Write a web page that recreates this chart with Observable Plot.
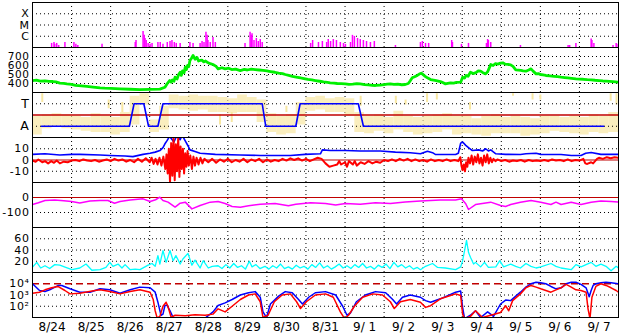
<!DOCTYPE html>
<html><head><meta charset="utf-8">
<script src="https://cdn.jsdelivr.net/npm/d3@7"></script>
<script src="https://cdn.jsdelivr.net/npm/@observablehq/plot@0.6"></script>
<style>body{margin:0;background:#fff}#chart{width:628px;height:334px;overflow:hidden}
#chart g[aria-label="y-axis tick label"] text{letter-spacing:0.6px}</style>
</head><body><div id="chart"></div><script>
// ---- time axis (days since 8/24 00:00) ----
const dayLabels = ["8/24","8/25","8/26","8/27","8/28","8/29","8/30","8/31","9/ 1","9/ 2","9/ 3","9/ 4","9/ 5","9/ 6","9/ 7"];
const gridDays = [1,2,3,4,5,6,7,8,9,10,11,12,13,14];

// ---- panel 1: X-ray flux (W/m2) ----
const xrayTickVals = [1e-6, 1e-5, 1e-4];
const xrayTickLabels = ["C", "M", "X"];
const xray = [[0.49,2.3e-7],[0.55,2.8e-7],[0.57,1.9e-7],[0.62,2.3e-7],[0.67,1.5e-7],[0.83,2.8e-7],[1.06,2.8e-7],[1.11,1.9e-7],[1.16,1.5e-7],[1.78,1.9e-7],[2.63,2.8e-7],[2.65,4.2e-7],[2.83,2.6e-6],[2.86,1.2e-6],[2.88,6.3e-7],[2.91,4.2e-7],[2.96,2.3e-7],[3.01,1.9e-7],[3.06,2.3e-7],[3.21,2.8e-7],[3.27,2.8e-7],[3.34,1.9e-7],[3.45,2.8e-7],[3.52,3.4e-7],[3.57,4.2e-7],[3.63,2.8e-7],[3.68,2.3e-7],[3.78,2.3e-7],[4.03,2.8e-7],[4.11,2.3e-7],[4.29,2.3e-7],[4.34,3.4e-7],[4.39,2.8e-7],[4.44,2.3e-6],[4.47,1.2e-6],[4.49,4.2e-7],[4.55,2.8e-7],[4.62,7.8e-7],[4.68,2.8e-7],[5.44,2.3e-7],[5.57,2.3e-6],[5.6,1.2e-6],[5.62,1.7e-6],[5.67,4.2e-7],[5.73,6.3e-7],[5.78,3.4e-7],[5.83,5.1e-7],[5.88,2.8e-7],[7.12,2.3e-7],[7.17,4.2e-7],[7.32,2.8e-7],[7.42,3.4e-7],[7.53,2.8e-7],[7.57,5.1e-7],[7.63,3.4e-7],[7.7,5.1e-7],[7.78,4.2e-7],[7.88,2.8e-7],[7.96,2.3e-7],[8.01,1.9e-7],[8.14,2.8e-7],[8.19,1.2e-6],[8.24,9.6e-7],[8.32,6.3e-7],[8.39,5.1e-7],[8.47,4.2e-7],[8.55,3.4e-7],[8.65,2.8e-7],[8.75,3.4e-7],[9.29,1.5e-7],[9.93,2.8e-7],[9.98,3.4e-7],[10.06,2.3e-7],[10.14,2.3e-7],[10.73,4.2e-7],[10.75,2.8e-7],[10.98,1.9e-7],[11.16,2.3e-7],[11.62,2.3e-7],[11.65,5.1e-7],[11.67,4.2e-7],[11.73,2.8e-7],[12.49,1.5e-7],[13.71,1.5e-7],[13.75,1.5e-7],[13.91,2.3e-7],[14.3,5.6e-7],[14.32,4.2e-7],[14.37,2.3e-7],[14.86,1.5e-7],[14.94,2.3e-7],[14.99,1.9e-7]];

// ---- panel 2: solar wind speed (km/s) ----
const speedTicks = [400, 500, 600, 700];
const speed = [[0,433],[0.1,438],[0.2,427],[0.32,430],[0.42,424],[0.52,422],[0.6,418],[0.7,405],[0.8,402],[0.88,396],[1.0,390],[1.1,380],[1.25,374],[1.39,367],[1.55,360],[1.73,352],[1.85,348],[2.0,345],[2.24,341],[2.5,336],[2.75,333],[3.0,335],[3.26,337],[3.39,359],[3.45,400],[3.51,433],[3.55,415],[3.58,440],[3.62,425],[3.65,470],[3.7,450],[3.74,500],[3.78,526],[3.81,490],[3.84,540],[3.88,520],[3.91,581],[3.94,555],[3.97,600],[4.0,590],[4.03,656],[4.07,680],[4.11,711],[4.16,670],[4.21,690],[4.25,650],[4.29,656],[4.34,660],[4.38,640],[4.43,650],[4.47,637],[4.55,620],[4.62,611],[4.7,590],[4.75,563],[4.85,575],[4.93,563],[5.02,570],[5.1,555],[5.2,560],[5.32,544],[5.42,556],[5.5,550],[5.6,560],[5.7,555],[5.8,550],[5.9,545],[6.0,540],[6.09,533],[6.2,525],[6.3,515],[6.4,510],[6.47,500],[6.56,490],[6.65,480],[6.75,472],[6.86,463],[6.95,455],[7.05,445],[7.15,440],[7.24,433],[7.35,425],[7.45,418],[7.55,412],[7.62,408],[7.72,404],[7.8,400],[7.9,398],[8.01,396],[8.1,390],[8.2,392],[8.3,398],[8.39,396],[8.5,388],[8.6,385],[8.7,380],[8.78,378],[8.9,383],[9.0,388],[9.08,392],[9.16,396],[9.25,390],[9.35,392],[9.45,386],[9.54,389],[9.62,400],[9.67,430],[9.72,463],[9.78,475],[9.85,490],[9.9,505],[9.95,514],[10.0,498],[10.05,480],[10.12,460],[10.19,444],[10.3,435],[10.36,430],[10.44,422],[10.5,410],[10.57,396],[10.63,402],[10.7,408],[10.78,404],[10.85,412],[10.96,415],[11.01,470],[11.06,460],[11.1,490],[11.15,480],[11.21,526],[11.28,510],[11.35,520],[11.41,540],[11.47,537],[11.53,520],[11.6,507],[11.65,530],[11.68,560],[11.73,611],[11.79,600],[11.85,620],[11.91,615],[11.98,626],[12.04,630],[12.1,615],[12.17,612],[12.24,607],[12.3,590],[12.37,552],[12.44,548],[12.5,545],[12.56,540],[12.63,537],[12.7,550],[12.76,563],[12.82,535],[12.89,507],[12.95,510],[13.0,500],[13.07,495],[13.14,489],[13.24,485],[13.35,480],[13.44,476],[13.53,470],[13.62,466],[13.7,462],[13.8,457],[13.91,452],[14.0,449],[14.1,447],[14.2,442],[14.3,441],[14.4,436],[14.5,432],[14.6,428],[14.68,426],[14.77,423],[14.85,420],[14.92,418],[15.0,415]];

// ---- panel 3: IMF sector (phi, degrees) ----
const sectorTickVals = [90, 270];
const sectorTickLabels = ["A", "T"];
const phiBinStep = 0.25;
const phiLo = [20,70,80,70,60,50,40,40,20,40,100,260,40,60,230,220,210,220,200,200,190,200,200,120,40,20,30,100,210,220,200,200,170,40,30,50,30,60,40,20,30,40,60,20,30,20,10,30,30,30,10,20,30,50,40,30,20,40,30,40];
const phiHi = [170,180,190,180,170,160,190,170,160,200,330,350,140,250,340,330,340,330,330,320,310,340,320,300,190,170,180,280,320,330,310,320,310,200,170,180,160,210,170,160,170,180,190,170,170,150,170,180,160,170,160,150,170,170,160,170,160,180,170,200];
const phiSpikes = [[0.25,280,350],[1.95,230,300],[2.3,200,280],[4.8,100,180],[5.1,120,200],[6.5,200,250],[8.4,250,330],[9.3,270,330],[9.55,260,300],[10.1,280,350],[10.35,300,350],[11.2,220,280],[12.3,330,350],[12.8,300,350],[13.0,300,340],[14.8,290,350],[14.95,260,350]];
const sector = [[0.23,90],[2.48,90],[2.6,270],[2.85,270],[2.97,90],[3.21,90],[3.34,270],[5.88,270],[5.97,90],[6.74,90],[6.85,270],[8.34,270],[8.47,90],[14.62,90]];

// ---- panel 4: IMF Bt and Bz (nT) ----
const bTickVals = [-10, 0, 10];
const bTickLabels = ["-10", "0", "10"];
const bt = [[0,5],[0.32,5.5],[0.7,4.5],[1.01,5],[1.21,5],[1.73,4.5],[1.98,4],[2.37,3.5],[2.57,3],[2.83,5],[3.01,6],[3.14,7],[3.26,8.4],[3.34,11],[3.39,14.4],[3.44,17],[3.51,21],[3.62,16],[3.7,22],[3.78,18],[3.83,22],[3.91,17],[3.99,12],[4.03,9],[4.16,7.5],[4.29,6],[4.68,5],[5.32,4.5],[5.83,4],[6.6,4],[6.98,5],[7.37,5.5],[7.42,9],[7.62,8.5],[8.01,8.5],[8.39,8],[8.9,8],[9.29,7],[9.67,6.5],[9.93,5.5],[10.11,7.8],[10.24,6.5],[10.31,5],[10.83,4.9],[10.9,6],[10.96,15],[11.01,16],[11.09,13],[11.16,11],[11.26,8.4],[11.42,9],[11.52,8],[11.6,10],[11.67,8],[11.73,9],[11.86,5.5],[12.11,5],[12.49,4.9],[12.63,5.5],[12.89,6],[13.01,5],[13.53,4.9],[13.79,4],[14.04,4],[14.16,6],[14.3,6.7],[14.55,5],[15.0,5]];
const bz = [[0,-0.5],[0.08,-1.5],[0.15,0.5],[0.25,-2],[0.32,-1],[0.4,-3],[0.48,-1],[0.55,-2.5],[0.62,-0.5],[0.7,-3],[0.8,-1.5],[0.9,-2],[1.0,-0.5],[1.1,0],[1.2,-1],[1.3,0.5],[1.4,-0.5],[1.5,-1],[1.6,0],[1.7,-1.5],[1.8,-0.5],[1.9,0.5],[2.0,-1],[2.1,1],[2.2,-0.5],[2.3,0.5],[2.4,-1.5],[2.5,0],[2.6,-2],[2.7,1],[2.8,-1.5],[2.9,1.5],[3.0,-2],[3.05,2],[3.1,-3.5],[3.15,1],[3.2,-4],[3.25,2],[3.3,-5],[3.35,3],[3.4,-8],[3.43,5],[3.46,-12],[3.49,10],[3.52,-20],[3.55,15],[3.58,-14],[3.61,20],[3.64,-18],[3.67,14],[3.7,-10],[3.73,20],[3.76,-15],[3.79,12],[3.82,-8],[3.85,10],[3.88,-12],[3.91,6],[3.94,-6],[3.97,8],[4.0,-5],[4.04,4],[4.08,-8],[4.12,3],[4.16,-5],[4.2,2],[4.25,-4],[4.3,2],[4.35,-3],[4.4,1],[4.5,-2],[4.6,1],[4.7,-2.5],[4.8,0.5],[4.9,-1.5],[5.0,1],[5.1,-2],[5.2,0],[5.3,-1.5],[5.4,1],[5.5,-2],[5.6,0.5],[5.7,-1],[5.8,1],[5.9,-2],[6.0,0.5],[6.1,-1.5],[6.2,0],[6.3,-1],[6.4,1],[6.5,-0.5],[6.6,1.5],[6.7,0],[6.8,1.5],[6.9,-0.5],[7.0,1],[7.1,-1],[7.2,0.5],[7.3,2],[7.4,1],[7.5,-3],[7.6,-6],[7.7,-5],[7.8,-4],[7.85,-1],[7.9,-4],[8.0,-2],[8.05,-6],[8.1,-1],[8.2,-4],[8.25,-1],[8.3,-5],[8.4,-2],[8.5,-3.5],[8.6,-1],[8.7,-3],[8.8,-1.5],[8.9,-2.5],[9.0,0],[9.1,-1],[9.2,0.5],[9.3,-1],[9.4,1],[9.5,-0.5],[9.6,1],[9.7,-1],[9.8,0.5],[9.9,-1],[10.0,0],[10.1,-1.5],[10.2,0.5],[10.3,-1],[10.4,0],[10.5,-1],[10.6,0.5],[10.7,-1],[10.8,0],[10.9,-1],[10.95,2.5],[10.98,-5],[11.01,-9],[11.04,-4],[11.07,-10],[11.1,-2],[11.13,-6],[11.16,2],[11.2,-3],[11.24,4],[11.28,-4],[11.32,3],[11.36,-2],[11.4,5],[11.44,-3],[11.48,2],[11.52,-5],[11.56,4],[11.6,-2],[11.64,5],[11.68,-3],[11.72,2],[11.76,-2],[11.8,1],[11.85,-1],[11.9,0.5],[12.0,-1],[12.1,0],[12.2,-1.5],[12.3,-0.5],[12.4,-1],[12.5,0],[12.6,-1.5],[12.7,0],[12.8,-1],[12.9,-0.5],[13.0,-1],[13.1,0],[13.2,-1],[13.3,0.5],[13.4,-0.5],[13.5,0],[13.6,-1],[13.7,0.5],[13.8,-1],[13.9,0],[14.0,-0.5],[14.1,1],[14.15,-3],[14.2,-3.5],[14.3,-2],[14.35,-3],[14.45,1],[14.5,2],[14.6,1],[14.7,2.5],[14.8,1.5],[14.9,2.5],[15.0,2]];

// ---- panel 5: Dst (nT) ----
const dstTickVals = [-100, 0];
const dstTickLabels = ["-100", "0"];
const dst = [[0,-47],[0.15,-35],[0.32,-20],[0.57,-16],[0.8,-22],[1.0,-27],[1.21,-36],[1.47,-24],[1.73,-20],[1.93,-20],[2.1,-38],[2.24,-27],[2.5,-16],[2.83,-9],[3.01,-27],[3.15,-15],[3.26,2],[3.34,-20],[3.47,-31],[3.65,-64],[3.78,-38],[3.91,-31],[4.08,-76],[4.29,-53],[4.55,-31],[4.75,-27],[4.93,-40],[5.11,-60],[5.32,-65],[5.53,-55],[5.83,-45],[6.21,-40],[6.55,-55],[6.74,-45],[7.12,-35],[7.5,-40],[7.76,-50],[8.01,-40],[8.39,-45],[8.78,-35],[9.16,-40],[9.54,-30],[9.93,-24],[10.19,-20],[10.44,-16],[10.83,-16],[10.98,-9],[11.09,-42],[11.16,-80],[11.34,-47],[11.73,-31],[11.98,-53],[12.11,-60],[12.24,-47],[12.49,-31],[12.76,-20],[13.01,-31],[13.27,-47],[13.4,-31],[13.53,-47],[13.79,-31],[14.04,-47],[14.3,-31],[14.55,-24],[14.81,-27],[15.0,-31]];

// ---- panel 6: cyan index ----
const cyTicks = [20, 40, 60];
const cyan = [[0,9.5],[0.11,18],[0.21,8],[0.32,12],[0.44,7],[0.57,14],[0.7,13],[0.85,9],[1.01,5],[1.21,8],[1.37,15],[1.52,4],[1.73,5],[1.88,9],[1.98,18],[2.06,11],[2.19,15],[2.29,8],[2.37,14],[2.5,5],[2.63,6],[2.75,5],[2.96,13],[3.06,16],[3.14,11],[3.21,30],[3.26,15],[3.34,39],[3.42,18],[3.52,39],[3.6,21],[3.67,30],[3.78,15],[3.85,24],[3.98,34],[4.08,13],[4.16,22],[4.29,8],[4.37,21],[4.5,8],[4.6,11],[4.75,12],[4.85,7],[4.95,14],[5.05,8],[5.15,16],[5.25,9],[5.35,12],[5.45,6],[5.55,20],[5.62,10],[5.72,14],[5.82,7],[5.95,11],[6.05,6],[6.15,12],[6.25,8],[6.35,15],[6.45,7],[6.55,10],[6.65,6],[6.75,13],[6.85,8],[6.95,11],[7.05,6],[7.15,14],[7.25,9],[7.35,17],[7.45,8],[7.55,12],[7.65,6],[7.75,10],[7.85,15],[7.95,8],[8.05,12],[8.15,7],[8.25,14],[8.35,9],[8.45,16],[8.55,8],[8.65,11],[8.75,6],[8.85,13],[8.95,9],[9.05,15],[9.15,7],[9.25,18],[9.35,10],[9.45,14],[9.55,8],[9.65,12],[9.75,6],[9.85,9],[9.93,5],[10.06,11],[10.24,16],[10.37,9],[10.57,8],[10.83,5],[10.96,10],[11.01,21],[11.06,39],[11.11,57],[11.16,36],[11.21,27],[11.29,15],[11.34,18],[11.47,10],[11.57,18],[11.67,9],[11.86,10],[11.96,21],[12.06,10],[12.24,15],[12.37,11],[12.49,8],[12.63,16],[12.76,11],[12.89,8],[13.01,10],[13.27,16],[13.4,11],[13.53,8],[13.79,5],[13.91,14],[14.04,10],[14.3,18],[14.42,11],[14.55,15],[14.68,11],[14.81,3],[14.94,11],[15.0,8]];

// ---- panel 7: electron flux (log10) ----
const eTickVals = [1e2, 1e3, 1e4];
const eTickLabels = ["10\u00B2", "10\u00B3", "10\u2074"];
const eBlueLog = [[0,4.0],[0.18,3.4],[0.32,3.31],[0.44,3.46],[0.65,3.84],[0.75,3.84],[0.96,3.55],[1.21,3.25],[1.47,3.25],[1.73,3.55],[1.98,3.46],[2.24,3.16],[2.5,3.46],[2.75,3.7],[3.01,3.64],[3.14,3.25],[3.21,2.36],[3.29,1.18],[3.34,1.3],[3.39,2.07],[3.44,2.1],[3.52,1.6],[3.6,1.0],[3.65,0.9],[3.91,0.95],[4.16,0.9],[4.42,0.95],[4.62,1.5],[4.75,2.07],[4.93,2.3],[5.11,2.6],[5.32,3.0],[5.53,3.2],[5.7,3.3],[5.83,2.8],[5.9,1.5],[5.99,1.0],[6.09,2.2],[6.3,2.9],[6.47,3.3],[6.65,3.2],[6.81,2.6],[6.91,2.2],[7.07,2.8],[7.24,3.2],[7.5,3.3],[7.76,3.0],[7.94,2.0],[8.05,1.2],[8.14,1.4],[8.29,2.4],[8.52,3.0],[8.78,3.3],[9.04,3.2],[9.22,2.6],[9.32,2.2],[9.47,2.8],[9.67,3.0],[9.93,2.8],[10.06,2.5],[10.19,2.36],[10.44,2.66],[10.7,3.04],[10.83,3.25],[10.96,3.35],[11.01,1.9],[11.06,0.9],[11.21,1.2],[11.34,1.6],[11.47,1.0],[11.65,1.5],[11.8,1.1],[11.98,2.2],[12.11,2.55],[12.24,2.5],[12.37,2.9],[12.49,3.25],[12.63,3.7],[12.76,4.0],[12.89,4.14],[13.01,4.08],[13.14,4.0],[13.27,3.76],[13.4,3.55],[13.53,3.64],[13.66,4.0],[13.79,4.14],[13.91,4.14],[14.04,3.94],[14.17,3.64],[14.25,2.84],[14.3,3.4],[14.35,3.85],[14.42,4.0],[14.55,4.08],[14.68,4.14],[14.81,4.08],[15.0,4.0]];
const eRedLog = [[0,3.16],[0.18,3.25],[0.32,3.46],[0.49,3.64],[0.65,3.76],[0.83,3.4],[0.96,3.1],[1.21,3.16],[1.6,3.4],[1.73,3.46],[1.98,3.31],[2.24,3.1],[2.5,3.31],[2.75,3.46],[3.01,3.25],[3.09,2.6],[3.14,1.6],[3.19,0.97],[3.26,1.1],[3.34,2.0],[3.42,2.36],[3.47,1.95],[3.55,1.0],[3.65,1.2],[3.91,1.15],[4.16,1.25],[4.42,1.2],[4.62,1.3],[4.75,1.77],[4.93,1.5],[5.11,2.0],[5.32,2.6],[5.53,3.0],[5.7,3.1],[5.83,2.4],[5.9,1.0],[6.03,1.2],[6.19,2.4],[6.39,3.0],[6.6,3.1],[6.76,2.4],[6.86,1.8],[7.01,2.4],[7.24,3.0],[7.5,3.1],[7.7,2.8],[7.88,1.5],[7.99,0.9],[8.09,1.2],[8.24,2.0],[8.45,2.8],[8.71,3.1],[8.96,3.0],[9.16,2.4],[9.26,1.8],[9.42,2.4],[9.67,2.6],[9.93,2.36],[10.06,1.9],[10.19,2.05],[10.44,2.66],[10.7,2.95],[10.83,3.1],[10.96,2.95],[11.01,1.3],[11.06,0.9],[11.21,1.1],[11.34,1.6],[11.52,1.0],[11.73,1.2],[11.98,1.45],[12.11,2.05],[12.19,1.6],[12.29,2.5],[12.49,3.1],[12.63,3.64],[12.76,3.85],[12.89,3.7],[13.01,3.55],[13.14,3.4],[13.27,3.25],[13.4,3.46],[13.53,3.64],[13.66,3.94],[13.79,3.7],[13.91,3.46],[14.04,3.4],[14.17,3.25],[14.22,1.77],[14.27,0.9],[14.32,2.8],[14.42,3.76],[14.55,4.0],[14.68,3.85],[14.81,3.64],[14.94,3.4],[15.0,3.25]];

// ---- colours ----
const MAG = "#ff00ff", GREEN = "#00f000", YEL = "#f8e7a2", BLUE = "#0000ff", RED = "#ff0000", DARKRED = "#c00000", CYAN = "#00ffff";

// ---- layout ----
const W = 628, ML = 32, MR = 10, PH = 45;
const baseStyle = {fontFamily: "'DejaVu Sans', sans-serif", fontSize: "12px", background: "white", color: "black", overflow: "visible"};
const dotted = {stroke: "black", strokeDasharray: "1,3", strokeWidth: 1};
const lab = (vals, labels) => (d) => labels[vals.indexOf(d)];

function panel({y, marks, top = 0, bottom = 0, xAxis = false}) {
  return Plot.plot({
    width: W, height: PH + top + bottom,
    marginLeft: ML, marginRight: MR, marginTop: top, marginBottom: bottom,
    x: xAxis ? {domain: [0, 15]} : {domain: [0, 15], axis: null},
    y,
    style: baseStyle,
    marks: [
      Plot.ruleX(gridDays, dotted),
      ...marks,
      Plot.frame({stroke: "black"})
    ]
  });
}
const yAxis = (ticks, fmt, size = 11) => Plot.axisY({ticks, tickFormat: fmt, tickSize: 0, tickPadding: 3, label: null, fontSize: size});

const sectorBins = phiLo.map((lo, i) => ({x1: i * phiBinStep, x2: (i + 1) * phiBinStep, lo, hi: phiHi[i]}));

const panels = [
  panel({top: 2, y: {type: "log", domain: [1e-7, 1e-3]}, marks: [
    Plot.ruleY(xrayTickVals, dotted),
    Plot.ruleX(xray, {x: d => d[0], y1: () => 1e-7, y2: d => d[1], stroke: MAG, strokeWidth: 1.5, clip: true}),
    yAxis(xrayTickVals, lab(xrayTickVals, xrayTickLabels))
  ]}),
  panel({y: {domain: [300, 800]}, marks: [
    Plot.ruleY(speedTicks, dotted),
    Plot.line(speed, {x: d => d[0], y: d => d[1], stroke: GREEN, strokeWidth: 2.8, clip: true}),
    yAxis(speedTicks, d => String(d), 10.5)
  ]}),
  panel({y: {domain: [0, 360]}, marks: [
    Plot.rect(sectorBins, {x1: "x1", x2: "x2", y1: "lo", y2: "hi", fill: YEL, fillOpacity: 0.7}),
    Plot.ruleX(phiSpikes, {x: d => d[0], y1: d => d[1], y2: d => d[2], stroke: YEL, strokeWidth: 2}),
    Plot.ruleY(sectorTickVals, dotted),
    Plot.ruleY([180], {stroke: DARKRED, strokeWidth: 1.5}),
    Plot.line(sector, {x: d => d[0], y: d => d[1], stroke: BLUE, strokeWidth: 1.6}),
    yAxis(sectorTickVals, lab(sectorTickVals, sectorTickLabels), 12.5)
  ]}),
  panel({y: {domain: [-20, 20]}, marks: [
    Plot.ruleY([-10, 10], dotted),
    Plot.ruleY([0], {stroke: DARKRED, strokeWidth: 1.2}),
    Plot.line(bt, {x: d => d[0], y: d => d[1], stroke: BLUE, strokeWidth: 1.6, clip: true}),
    Plot.line(bz, {x: d => d[0], y: d => d[1], stroke: RED, strokeWidth: 2, clip: true}),
    yAxis(bTickVals, lab(bTickVals, bTickLabels))
  ]}),
  panel({y: {domain: [-200, 100]}, marks: [
    Plot.ruleY([-100], dotted),
    Plot.ruleY([0], {stroke: DARKRED, strokeWidth: 1.2}),
    Plot.line(dst, {x: d => d[0], y: d => d[1], stroke: MAG, strokeWidth: 1.5, clip: true}),
    yAxis(dstTickVals, lab(dstTickVals, dstTickLabels))
  ]}),
  panel({y: {domain: [0, 80]}, marks: [
    Plot.ruleY(cyTicks, dotted),
    Plot.line(cyan, {x: d => d[0], y: d => d[1], stroke: CYAN, strokeWidth: 1.3, clip: true}),
    yAxis(cyTicks, d => String(d))
  ]}),
  panel({bottom: 17, xAxis: true, y: {type: "log", domain: [10, 1e5]}, marks: [
    Plot.ruleY([1e2, 1e3], dotted),
    Plot.ruleY([1e4], {stroke: DARKRED, strokeWidth: 1.3, strokeDasharray: "7,4"}),
    Plot.line(eBlueLog, {x: d => d[0], y: d => Math.pow(10, d[1]), stroke: BLUE, strokeWidth: 1.5, clip: true}),
    Plot.line(eRedLog, {x: d => d[0], y: d => Math.pow(10, d[1]), stroke: RED, strokeWidth: 1.5, clip: true}),
    yAxis(eTickVals, lab(eTickVals, eTickLabels)),
    Plot.axisX({ticks: dayLabels.map((_, i) => i + 0.5), tickFormat: d => dayLabels[Math.floor(d)], tickSize: 0, tickPadding: 5, label: null, fontSize: 12})
  ]})
];
const chart = document.getElementById("chart");
panels.forEach(p => chart.appendChild(p));
</script></body></html>
